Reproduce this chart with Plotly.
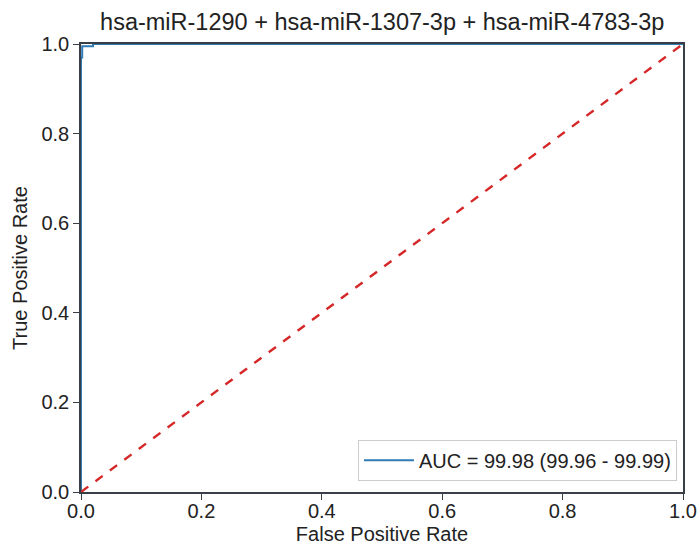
import plotly.graph_objects as go

title_text = "hsa-miR-1290 + hsa-miR-1307-3p + hsa-miR-4783-3p"
legend_label = "AUC = 99.98 (99.96 - 99.99)"
roc_fpr = [0.0, 0.0, 0.002, 0.002, 0.02, 0.02, 1.0]
roc_tpr = [0.0, 0.97, 0.97, 0.995, 0.995, 1.0, 1.0]
diag_x = [0.0, 1.0]
diag_y = [0.0, 1.0]
tick_vals = [0.0, 0.2, 0.4, 0.6, 0.8, 1.0]
tick_text = ["0.0", "0.2", "0.4", "0.6", "0.8", "1.0"]

fig = go.Figure()
fig.add_trace(go.Scatter(x=roc_fpr, y=roc_tpr, mode="lines", name=legend_label,
                         line=dict(color="#2f7bb5", width=2)))
fig.add_trace(go.Scatter(x=diag_x, y=diag_y, mode="lines", showlegend=False,
                         line=dict(color="#d62728", width=2.4, dash="dash")))

axis_common = dict(range=[0, 1], tickvals=tick_vals, ticktext=tick_text,
                   showgrid=False, zeroline=False, showline=True, mirror=True,
                   linecolor="#3a3f47", linewidth=1.5,
                   tickcolor="#3a3f47", tickfont=dict(size=20, color="#222222"),
                   automargin=False)

fig.update_layout(
    width=700, height=546,
    margin=dict(l=81, r=17, t=44, b=54),
    paper_bgcolor="white", plot_bgcolor="white",
    font=dict(family="Liberation Sans, Arial, sans-serif", color="#222222"),
    title=dict(text=title_text, x=0.546, xanchor="center", y=0.96, yanchor="middle",
               font=dict(size=23.5, color="#222222")),
    xaxis=dict(**axis_common, ticks="", ticklen=0,
               minor=dict(tickvals=tick_vals, ticks="outside", ticklen=6,
                          tickcolor="#3a3f47", tickwidth=1.2, showgrid=False),
               title=dict(text="False Positive Rate", font=dict(size=20), standoff=6)),
    yaxis=dict(**axis_common, ticks="outside", ticklen=6,
               title=dict(text="True Positive Rate", font=dict(size=20), standoff=8)),
    legend=dict(x=0.99, y=0.025, xanchor="right", yanchor="bottom",
                bgcolor="rgba(255,255,255,0.9)", bordercolor="#cccccc", borderwidth=1,
                font=dict(size=20, color="#222222"), itemwidth=50),
)

fig.write_html("out.html", config={"displayModeBar": False},
               post_script="document.body.style.margin='0';")
